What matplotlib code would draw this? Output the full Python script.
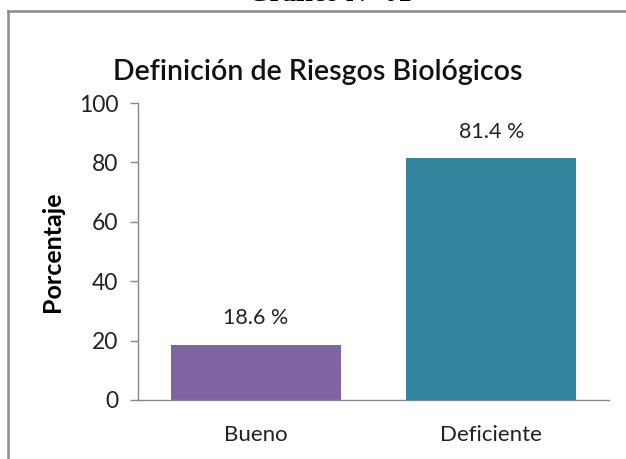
import matplotlib.pyplot as plt
from matplotlib.lines import Line2D

categorias = ['Bueno', 'Deficiente']
porcentajes = [18.6, 81.4]
colores = ['#8064A2', '#31849B']
yticks = [0, 20, 40, 60, 80, 100]

plt.rcParams['font.family'] = ['Lato', 'DejaVu Sans']

W, H = 626, 459
fig = plt.figure(figsize=(W / 100, H / 100), dpi=100)
ax = fig.add_axes([138 / W, 1 - 400 / H, (609 - 138) / W, (400 - 103) / H])

x = list(range(len(categorias)))
bars = ax.bar(x, porcentajes, width=0.72, color=colores, zorder=2)
ax.set_xlim(-0.5, len(categorias) - 0.5)
ax.set_ylim(0, 100)
ax.set_yticks(yticks)
ax.set_xticks(x)
ax.set_xticklabels(categorias, fontsize=16, color='#222222')
ax.tick_params(axis='x', length=0, pad=18)
ax.tick_params(axis='y', length=6, width=1, color='#888888', labelsize=16.5,
               labelcolor='#222222', pad=8)

for s in ['top', 'right']:
    ax.spines[s].set_visible(False)
for s in ['left', 'bottom']:
    ax.spines[s].set_color('#888888')
    ax.spines[s].set_linewidth(1)

for b, v in zip(bars, porcentajes):
    ax.annotate(f'{v:.1f} %', (b.get_x() + b.get_width() / 2, v),
                xytext=(0, 19), textcoords='offset points',
                ha='center', va='center', fontsize=15.5, color='#222222')

ax.set_ylabel('Porcentaje', fontsize=18, fontweight='bold', labelpad=11)
fig.text(318 / W, 1 - 72 / H, 'Definición de Riesgos Biológicos',
         ha='center', va='center', fontsize=20.5, fontweight='semibold',
         color='#111111')

# texto superior recortado por el borde de la imagen
fig.text(330 / W, 1 - 1 / H, 'Gráfico N° 01', ha='center', va='baseline',
         fontsize=20, fontweight='bold', family='Liberation Serif')

# marco del gráfico
fig.add_artist(Line2D([8 / W, 1], [1 - 11 / H, 1 - 11 / H],
                      transform=fig.transFigure, color='#8c8c8c', lw=1.8))
fig.add_artist(Line2D([8 / W, 8 / W], [0, 1 - 11 / H],
                      transform=fig.transFigure, color='#8c8c8c', lw=1.8))

fig.savefig('out.png', dpi=100)
